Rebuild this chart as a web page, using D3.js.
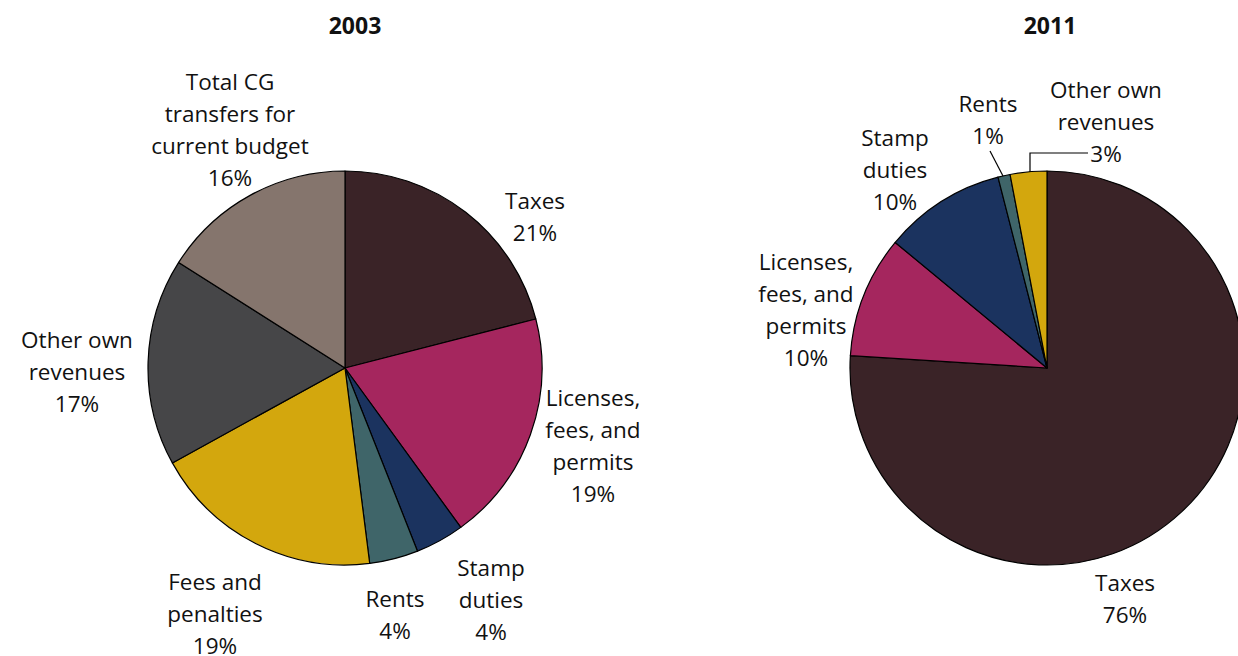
<!DOCTYPE html>
<html><head><meta charset="utf-8">
<script src="https://cdn.jsdelivr.net/npm/d3@7"></script>
<style>
html,body{margin:0;padding:0;background:#fff;}
svg text{font-family:"Open Sans",Lato,sans-serif;fill:#111;}
</style></head>
<body>
<svg id="chart" width="1238" height="656"></svg>
<script>
// ---- data ----
const years = ["2003", "2011"];
const categories2003 = ["Taxes", "Licenses, fees, and permits", "Stamp duties", "Rents", "Fees and penalties", "Other own revenues", "Total CG transfers for current budget"];
const values2003 = [21, 19, 4, 4, 19, 17, 16];
const categories2011 = ["Taxes", "Licenses, fees, and permits", "Stamp duties", "Rents", "Other own revenues"];
const values2011 = [76, 10, 10, 1, 3];
// label line-breaks
const labelLines2003 = [["Taxes"], ["Licenses,", "fees, and", "permits"], ["Stamp", "duties"], ["Rents"], ["Fees and", "penalties"], ["Other own", "revenues"], ["Total CG", "transfers for", "current budget"]];
const labelLines2011 = [["Taxes"], ["Licenses,", "fees, and", "permits"], ["Stamp", "duties"], ["Rents"], ["Other own", "revenues"]];

// ---- styles / layout ----
const palette = ["#3a2327", "#a5265e", "#1b335f", "#3f6569", "#d3a70d", "#464648", "#85756d"];
const R = 197;
const lineH = 32;
const fontSize = 22.5;
const pies = [
  {year: years[0], cats: categories2003, vals: values2003, lines: labelLines2003, cx: 345, cy: 368, titleX: 355,
   labels: [[535, 201], [593, 398], [491, 568], [395, 599], [215, 582], [77, 340], [230, 82]], leaders: []},
  {year: years[1], cats: categories2011, vals: values2011, lines: labelLines2011, cx: 1047, cy: 368, titleX: 1050,
   labels: [[1125, 583], [806, 262], [895, 138], [988, 104], [1106, 90]],
   leaders: [null, null, null, [[990, 151], [1003, 176]], [[1088, 153], [1030, 153], [1030, 172]]]}
];

const svg = d3.select("#chart");
const pie = d3.pie().sort(null).value(d => d.v);
const arc = d3.arc().innerRadius(0).outerRadius(R);

pies.forEach(p => {
  const g = svg.append("g");
  g.append("text").attr("x", p.titleX).attr("y", 34).attr("text-anchor", "middle")
    .style("font-weight", "bold").style("font-size", "23px").text(p.year);
  const data = p.cats.map((c, i) => ({c, v: p.vals[i], i}));
  const pg = g.append("g").attr("transform", `translate(${p.cx},${p.cy})`);
  pg.selectAll("path").data(pie(data)).join("path")
    .attr("d", arc).attr("fill", d => palette[d.data.i])
    .attr("stroke", "#000").attr("stroke-width", 1.2).attr("stroke-linejoin", "round");
  data.forEach((d, i) => {
    const [lx, ly] = p.labels[i];
    const lines = p.lines[i].concat([d.v + "%"]);
    const t = g.append("text").attr("text-anchor", "middle").style("font-size", fontSize + "px");
    lines.forEach((s, k) => {
      t.append("tspan").attr("x", lx).attr("y", ly + k * lineH + 8).text(s);
    });
    const ld = p.leaders[i];
    if (ld) {
      g.append("path").attr("d", d3.line()(ld)).attr("fill", "none").attr("stroke", "#000").attr("stroke-width", 1.2);
    }
  });
});
</script>
</body></html>
